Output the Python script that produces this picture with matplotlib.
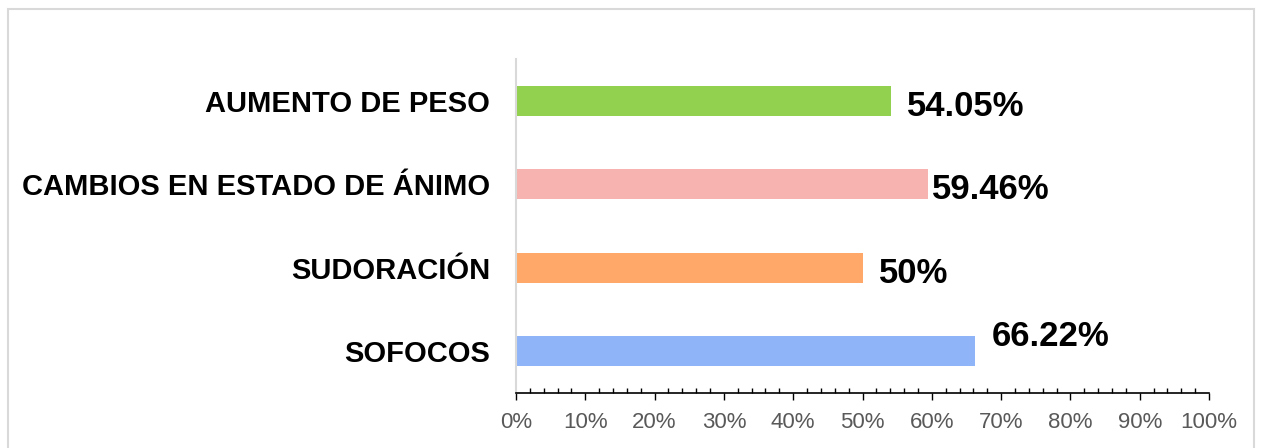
import matplotlib
matplotlib.use("Agg")
import matplotlib.pyplot as plt
from matplotlib.ticker import MultipleLocator, PercentFormatter
from matplotlib.patches import Rectangle

plt.rcParams['font.family'] = ['Liberation Sans', 'DejaVu Sans']

categories = ['SOFOCOS', 'SUDORACIÓN', 'CAMBIOS EN ESTADO DE ÁNIMO', 'AUMENTO DE PESO']
values = [66.22, 50, 59.46, 54.05]
value_labels = ['66.22%', '50%', '59.46%', '54.05%']
colors = ['#8FB5F8', '#FFA869', '#F6B3AF', '#92D050']

fig = plt.figure(figsize=(12.61, 4.48), dpi=100)
# light grey frame around the chart area
fig.patches.append(Rectangle((8 / 1261, -0.05), 1246 / 1261, 1.05 - 9 / 448,
                             transform=fig.transFigure, fill=False,
                             edgecolor='#D9D9D9', linewidth=1.5))

ax = fig.add_axes([516 / 1261, 55 / 448, 693 / 1261, 334 / 448])
ypos = range(len(categories))
ax.barh(ypos, values, height=0.36, color=colors)

ax.set_xlim(0, 100)
ax.set_ylim(-0.5, len(categories) - 0.5)
ax.set_yticks(list(ypos))
ax.set_yticklabels(categories, fontsize=21, fontweight='bold', color='black')
ax.tick_params(axis='y', length=0, pad=18.5)

ax.xaxis.set_major_locator(MultipleLocator(10))
ax.xaxis.set_minor_locator(MultipleLocator(2))
ax.xaxis.set_major_formatter(PercentFormatter(decimals=0))
ax.tick_params(axis='x', which='major', direction='out', length=5, width=1,
               color='black', labelsize=16, labelcolor='#595959', pad=9)
ax.tick_params(axis='x', which='minor', direction='in', length=3.6, width=1,
               color='black')

for side in ['top', 'right']:
    ax.spines[side].set_visible(False)
ax.spines['bottom'].set_color('black')
ax.spines['bottom'].set_linewidth(1.2)
ax.spines['left'].set_color('#D9D9D9')
ax.spines['left'].set_linewidth(1.5)

# label offsets (points) as placed in the original
offsets = [(12, 10.5), (12, -4), (3, -4), (12, -4)]
for y, v, lab, off in zip(ypos, values, value_labels, offsets):
    ax.annotate(lab, (v, y), xytext=off, textcoords='offset points',
                ha='left', va='center', fontsize=25, fontweight='bold',
                color='black')

fig.savefig('out.png', dpi=100)
